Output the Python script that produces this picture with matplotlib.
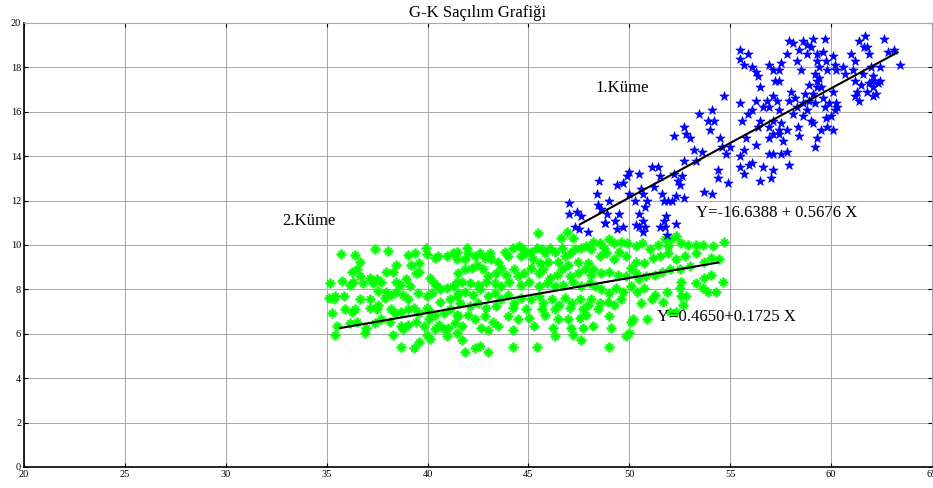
import matplotlib
matplotlib.use("Agg")
import matplotlib.pyplot as plt

plt.rcParams['font.family'] = ['Liberation Serif', 'DejaVu Serif']

title = "G-K Saçılım Grafiği"
x_ticks = [20, 25, 30, 35, 40, 45, 50, 55, 60, 65]
y_ticks = [0, 2, 4, 6, 8, 10, 12, 14, 16, 18, 20]

# Cluster 1 (blue)
blue_x = [47.0, 47.0, 47.4, 47.6, 47.3, 47.5, 47.95, 48.4, 48.5, 48.45, 48.6, 48.9, 48.8, 49.0, 49.3, 49.4, 49.5, 49.4, 49.7, 49.9,
          50.0, 50.0, 50.3, 50.5, 50.6, 50.7, 50.5, 50.7, 50.8, 50.5, 50.8, 50.9, 51.1, 51.2, 51.4, 51.5, 51.6, 51.7, 51.8, 51.7,
          51.75, 51.9, 52.1, 52.2, 52.2, 52.3, 52.4, 52.5, 52.6, 52.7, 52.8, 53.0, 52.7, 52.7, 53.2, 53.3, 53.45, 53.6, 53.7, 53.9,
          54.0, 54.1, 54.2, 54.1, 54.4, 54.4, 54.5, 54.6, 54.7, 54.9, 55.0, 54.8,
          55.5, 55.5, 55.7, 55.9, 56.1, 56.3, 56.4, 56.5, 56.3, 56.1, 55.9, 55.5, 55.6, 55.8, 55.7, 55.5, 55.5, 55.7, 55.95, 56.1,
          56.3, 56.4, 56.5, 56.6, 56.8, 56.9, 57.1, 57.3, 57.4, 57.1, 56.9, 56.9, 57.1, 57.4, 57.4, 57.6, 57.5, 57.8, 57.9, 57.8,
          57.5, 57.1, 56.9, 56.6, 56.5, 57.0, 57.1, 57.4, 57.2, 56.9, 57.1, 57.4, 57.5, 57.8, 57.9, 58.1, 58.3, 58.4, 58.5, 58.6,
          58.8, 58.8, 59.0, 59.1, 59.3, 59.3, 59.4, 59.6, 59.7, 59.75, 59.8, 60.1, 60.2, 60.25,
          57.9, 58.0, 58.2, 58.3, 58.35, 58.4, 58.1, 58.6, 58.7, 58.8, 58.9, 59.0, 59.1, 59.2, 59.3, 59.3, 59.4, 59.5, 59.6, 59.7,
          59.75, 59.8, 59.9, 60.1, 60.2, 60.0, 60.25, 60.3, 60.1, 59.5, 59.3, 59.2, 59.1, 58.6, 58.9, 59.2,
          60.6, 60.7, 61.0, 61.2, 61.2, 61.3, 61.4, 61.5, 61.6, 61.65, 61.7, 61.8, 61.9, 62.0, 62.1, 62.1, 62.2, 62.3, 62.4, 62.6,
          62.8, 63.1, 63.4, 61.8, 61.2, 62.1, 61.1, 61.4, 62.4, 62.1, 61.9,
          48.8, 49.7, 50.35, 50.7, 51.5, 51.85, 52.3]
blue_y = [11.9, 11.4, 11.5, 11.3, 10.8, 10.7, 10.6, 12.3, 12.9, 11.8, 11.6, 11.4, 11.0, 12.0, 11.1, 10.7, 11.4, 12.7, 12.8, 13.1,
          13.3, 12.3, 12.0, 13.2, 12.5, 12.3, 11.4, 11.1, 10.8, 10.8, 11.7, 12.0, 13.5, 12.6, 13.5, 13.1, 12.3, 12.0, 11.3, 11.1,
          10.8, 12.0, 12.0, 13.2, 14.9, 12.2, 12.9, 12.7, 13.1, 15.3, 15.0, 14.8, 13.8, 12.1, 14.3, 13.8, 15.9, 14.2, 12.4, 15.6,
          15.2, 16.1, 15.6, 12.3, 13.4, 13.0, 14.8, 14.4, 16.7, 12.8, 14.4, 14.1,
          18.8, 18.4, 18.1, 18.6, 18.0, 17.8, 17.6, 17.1, 16.5, 16.1, 15.9, 16.4, 15.6, 14.8, 14.3, 14.0, 13.5, 13.2, 13.6, 13.7,
          14.5, 15.3, 15.6, 16.2, 16.5, 16.2, 16.7, 16.5, 16.1, 15.6, 15.3, 14.8, 15.0, 15.2, 15.0, 14.7, 15.5, 15.2, 13.6, 14.2,
          14.1, 14.1, 14.1, 13.5, 12.9, 13.0, 13.4, 17.4, 17.4, 18.1, 17.9, 17.9, 18.2, 18.6, 19.2, 19.1, 18.3, 18.8, 17.9, 19.2,
          19.0, 18.6, 18.9, 19.3, 18.3, 18.6, 18.0, 18.7, 19.3, 18.3, 17.9, 18.5, 18.1, 17.9,
          16.5, 16.9, 16.6, 16.2, 15.3, 14.9, 15.9, 16.4, 16.8, 16.1, 16.5, 15.6, 16.8, 16.4, 17.1, 17.4, 17.5, 17.1, 16.6, 16.2,
          15.7, 15.3, 16.4, 16.9, 16.1, 15.8, 16.4, 16.2, 15.2, 15.2, 14.8, 14.4, 15.5, 15.8, 17.2, 17.7,
          18.0, 17.7, 18.6, 18.3, 17.4, 16.9, 16.5, 17.2, 17.7, 18.9, 19.4, 18.9, 18.6, 18.0, 17.4, 17.1, 16.8, 17.3, 18.0, 19.3,
          18.7, 18.8, 18.1, 16.9, 16.7, 16.7, 17.9, 19.2, 17.4, 17.6, 17.3,
          10.98, 10.83, 10.9, 10.6, 10.83, 10.45, 10.95]

# Cluster 2 (green)
green_x = [35.7, 36.4, 36.65, 37.4, 38.05, 39.05, 39.4, 39.9, 39.95, 40.35, 40.5, 40.95, 41.25, 41.45, 39.2, 39.6, 38.45, 38.3, 37.95, 36.25,
           36.5, 36.65, 36.3, 35.15, 35.75, 36.15, 36.8, 37.15, 37.3, 37.5, 37.7, 37.55, 37.95, 38.45, 38.65, 38.95, 39.15, 39.45, 39.6, 40.1,
           40.3, 40.45, 40.6, 40.95, 41.25, 41.45, 35.1, 35.4, 35.85, 35.35, 36.65, 37.15, 37.9, 38.2, 38.45, 38.8, 39.05, 39.55, 39.95, 40.2,
           40.6, 41.1, 41.45, 35.25, 35.9, 36.25, 36.4, 37.15, 37.55, 37.5, 38.2, 38.4, 38.7, 39.05, 39.35, 39.6, 39.95, 40.1, 40.35, 40.8,
           41.1, 41.45, 35.5, 36.15, 36.5, 36.95, 37.4, 37.7, 38.15, 38.7, 39.05, 39.45, 39.8, 40.05, 40.55, 40.8, 41.0, 41.35, 35.4, 36.9,
           38.3, 38.8, 39.95, 40.35, 40.95, 41.45, 38.7, 39.35, 39.6, 40.1,
           45.45, 41.45, 41.95, 42.0, 41.85, 42.35, 42.6, 42.85, 43.1, 43.15, 43.5, 43.85, 44.0, 44.25, 44.55, 44.75, 44.65, 44.9, 45.15, 45.4,
           45.65, 45.8, 46.05, 46.3, 46.65, 46.8, 47.05, 47.3, 47.6, 47.85, 48.1, 45.25, 45.55, 45.95, 46.45, 46.95, 47.45, 47.95,
           41.5, 41.85, 42.2, 42.45, 42.75, 43.0, 43.4, 43.65, 43.9, 44.3, 44.5, 44.8, 45.15, 45.5, 45.7, 46.05, 46.4, 46.65, 47.05, 47.45,
           47.8, 48.1, 41.7, 42.1, 42.5, 42.9, 43.35, 43.65, 44.05, 44.65, 45.05, 45.5, 45.9, 46.3, 46.7, 47.2, 47.6, 48.05,
           41.5, 41.85, 42.25, 42.6, 43.0, 43.35, 43.65, 44.0, 44.3, 44.65, 45.15, 45.5, 45.7, 46.15, 46.5, 46.8, 47.15, 47.55, 47.95, 41.6,
           42.1, 42.5, 42.9, 43.4, 44.25, 44.9, 45.65, 46.3, 47.05, 47.7,
           41.5, 42.0, 42.35, 42.85, 43.25, 43.5, 44.0, 44.5, 45.05, 45.8, 46.45, 46.95, 47.55, 47.85, 41.7, 42.65, 43.0, 44.25, 45.3, 46.2,
           47.1, 47.7, 41.7, 41.85, 42.35, 42.6, 43.0, 44.25, 45.4, 46.3, 47.2, 47.6,
           48.2, 48.55, 48.75, 49.0, 49.25, 49.6, 49.9, 50.35, 50.65, 51.0, 51.4, 51.75, 51.9, 52.05, 52.3, 52.55, 52.9, 53.3, 53.65, 54.15,
           54.7, 48.55, 48.85, 49.25, 49.5, 49.85, 50.35, 50.75, 51.15, 51.5, 51.9, 52.3, 52.75, 53.3, 53.7, 54.05, 54.45,
           48.2, 48.6, 49.0, 49.45, 49.85, 50.1, 50.35, 50.5, 50.85, 51.25, 51.6, 52.0, 52.5, 53.0, 53.7, 54.05, 54.65, 52.55, 53.3,
           48.3, 48.6, 49.0, 49.35, 49.7, 50.1, 50.4, 50.75, 51.25, 51.85, 52.5, 52.8, 53.65, 53.9, 54.3,
           48.1, 48.55, 48.95, 49.25, 49.6, 50.6, 51.1, 51.65, 52.55, 52.65, 48.45, 49.0, 50.2, 50.9, 50.1, 52.0, 52.3, 48.2, 49.1, 49.85,
           50.0, 49.0, 46.9, 47.2, 46.6]
green_y = [9.6, 9.55, 9.25, 9.8, 9.75, 9.55, 9.65, 9.85, 9.6, 9.4, 9.5, 9.5, 9.65, 9.35, 9.1, 9.2, 9.1, 8.8, 8.8, 8.8,
           8.9, 8.6, 8.35, 8.3, 8.4, 8.2, 8.3, 8.5, 8.3, 8.45, 8.35, 7.95, 7.9, 8.35, 8.2, 8.45, 8.15, 8.75, 8.8, 8.5,
           8.3, 8.15, 8.0, 8.05, 8.15, 8.35, 7.6, 7.7, 7.7, 7.55, 7.55, 7.55, 7.6, 7.75, 7.9, 7.75, 7.55, 7.85, 7.7, 7.85,
           7.45, 7.55, 7.7, 6.95, 7.1, 7.0, 7.1, 7.15, 7.3, 7.1, 7.1, 6.95, 7.0, 7.1, 7.15, 6.95, 7.15, 7.0, 6.85, 6.95,
           7.1, 6.85, 6.35, 6.5, 6.55, 6.25, 6.5, 6.65, 6.55, 6.35, 6.4, 6.55, 6.35, 6.65, 6.4, 6.2, 6.25, 6.5, 5.95, 6.05,
           5.95, 6.2, 5.95, 6.2, 5.9, 6.05, 5.4, 5.35, 5.65, 5.75,
           10.55, 9.7, 9.85, 9.65, 9.35, 9.5, 9.65, 9.4, 9.65, 9.35, 9.25, 9.7, 9.5, 9.85, 9.95, 9.8, 9.5, 9.65, 9.7, 9.85,
           9.8, 9.65, 9.85, 9.7, 9.85, 9.5, 9.65, 9.8, 9.85, 9.95, 9.8, 9.35, 9.2, 9.25, 9.25, 9.1, 9.25, 9.2,
           8.75, 8.9, 8.95, 9.1, 8.9, 8.6, 8.75, 8.95, 8.65, 8.9, 8.6, 8.75, 8.95, 8.75, 8.9, 8.5, 8.65, 8.9, 8.6, 8.75,
           8.9, 8.65, 8.35, 8.3, 8.2, 8.35, 8.3, 8.15, 8.35, 8.2, 8.35, 8.15, 8.3, 8.15, 8.2, 8.35, 8.15, 8.3,
           7.85, 7.9, 7.75, 8.0, 7.7, 7.85, 7.55, 7.75, 7.4, 7.6, 7.55, 7.7, 7.4, 7.55, 7.3, 7.6, 7.4, 7.55, 7.3, 7.4,
           7.25, 7.4, 7.15, 7.25, 7.15, 7.1, 7.1, 7.1, 7.15, 7.1,
           6.8, 6.85, 6.65, 6.8, 6.55, 6.35, 6.8, 6.65, 6.7, 6.85, 6.65, 6.65, 6.7, 6.85, 6.35, 6.25, 6.15, 6.15, 6.35, 6.25,
           6.25, 6.25, 5.7, 5.2, 5.35, 5.45, 5.2, 5.4, 5.4, 5.9, 5.95, 5.7,
           10.15, 10.1, 9.85, 10.25, 10.1, 10.15, 10.1, 9.95, 10.1, 9.8, 10.0, 10.25, 9.95, 10.25, 10.4, 10.1, 10.0, 10.0, 10.0, 9.95,
           10.15, 9.5, 9.65, 9.35, 9.7, 9.5, 9.25, 9.2, 9.4, 9.5, 9.65, 9.35, 9.5, 9.65, 9.25, 9.4, 9.35,
           8.9, 8.75, 8.8, 8.65, 8.6, 8.95, 8.75, 8.45, 8.6, 8.65, 8.8, 8.9, 8.9, 9.05, 8.5, 8.65, 8.35, 8.35, 8.3,
           8.15, 8.0, 7.85, 8.05, 7.9, 8.15, 7.9, 8.05, 7.75, 7.9, 8.05, 7.7, 8.05, 7.9, 7.9,
           7.55, 7.4, 7.45, 7.3, 7.55, 7.4, 7.55, 7.45, 7.7, 7.3, 7.1, 6.8, 6.65, 6.65, 6.55, 7.0, 7.0, 6.35, 6.25, 5.9,
           6.05, 5.4, 10.6, 10.3, 10.3]

# Regression lines (drawn segments)
line1_x = [47.55, 63.3]
line1_y = [10.93, 18.68]
line2_x = [35.68, 54.4]
line2_y = [6.26, 9.21]

labels = ["1.Küme", "2.Küme"]
eq1 = "Y=-16.6388 + 0.5676 X"
eq2 = "Y=0.4650+0.1725 X"

fig = plt.figure(figsize=(9.33, 4.88), dpi=100)
ax = fig.add_axes([24 / 933, 21 / 488, 908 / 933, 444 / 488])

green = '#00ff00'
ax.scatter(green_x, green_y, marker='+', s=50, c=green, linewidths=1.8, zorder=3)
ax.scatter(green_x, green_y, marker='x', s=22, c=green, linewidths=1.3, zorder=3)
ax.scatter(green_x, green_y, marker='o', s=10, c=green, linewidths=0, zorder=3)
ax.scatter(blue_x, blue_y, marker='*', s=48, c='#0000ff', edgecolors='#0000ff', linewidths=0.5, zorder=4)
ax.plot(line1_x, line1_y, color='black', lw=1.5, zorder=5)
ax.plot(line2_x, line2_y, color='black', lw=1.5, zorder=5)

ax.text(48.3, 17.05, labels[0], fontsize=12, va='center', ha='left')
ax.text(32.8, 11.1, labels[1], fontsize=12, va='center', ha='left')
ax.text(53.3, 11.45, eq1, fontsize=12, va='center', ha='left')
ax.text(51.35, 6.75, eq2, fontsize=12, va='center', ha='left')

ax.set_xlim(20, 65)
ax.set_ylim(0, 20)
ax.set_xticks(x_ticks)
ax.set_yticks(y_ticks)
ax.grid(True, color='#a8a8a8', lw=0.7)
ax.set_axisbelow(True)
ax.tick_params(direction='in', length=3, labelsize=7.5, pad=2, top=True, right=True)
for s in ['left', 'bottom']:
    ax.spines[s].set_color('black')
    ax.spines[s].set_linewidth(1.2)
for s in ['top', 'right']:
    ax.spines[s].set_color('#a8a8a8')
ax.set_title(title, fontsize=12, pad=4)

fig.savefig("out.png", dpi=100)
